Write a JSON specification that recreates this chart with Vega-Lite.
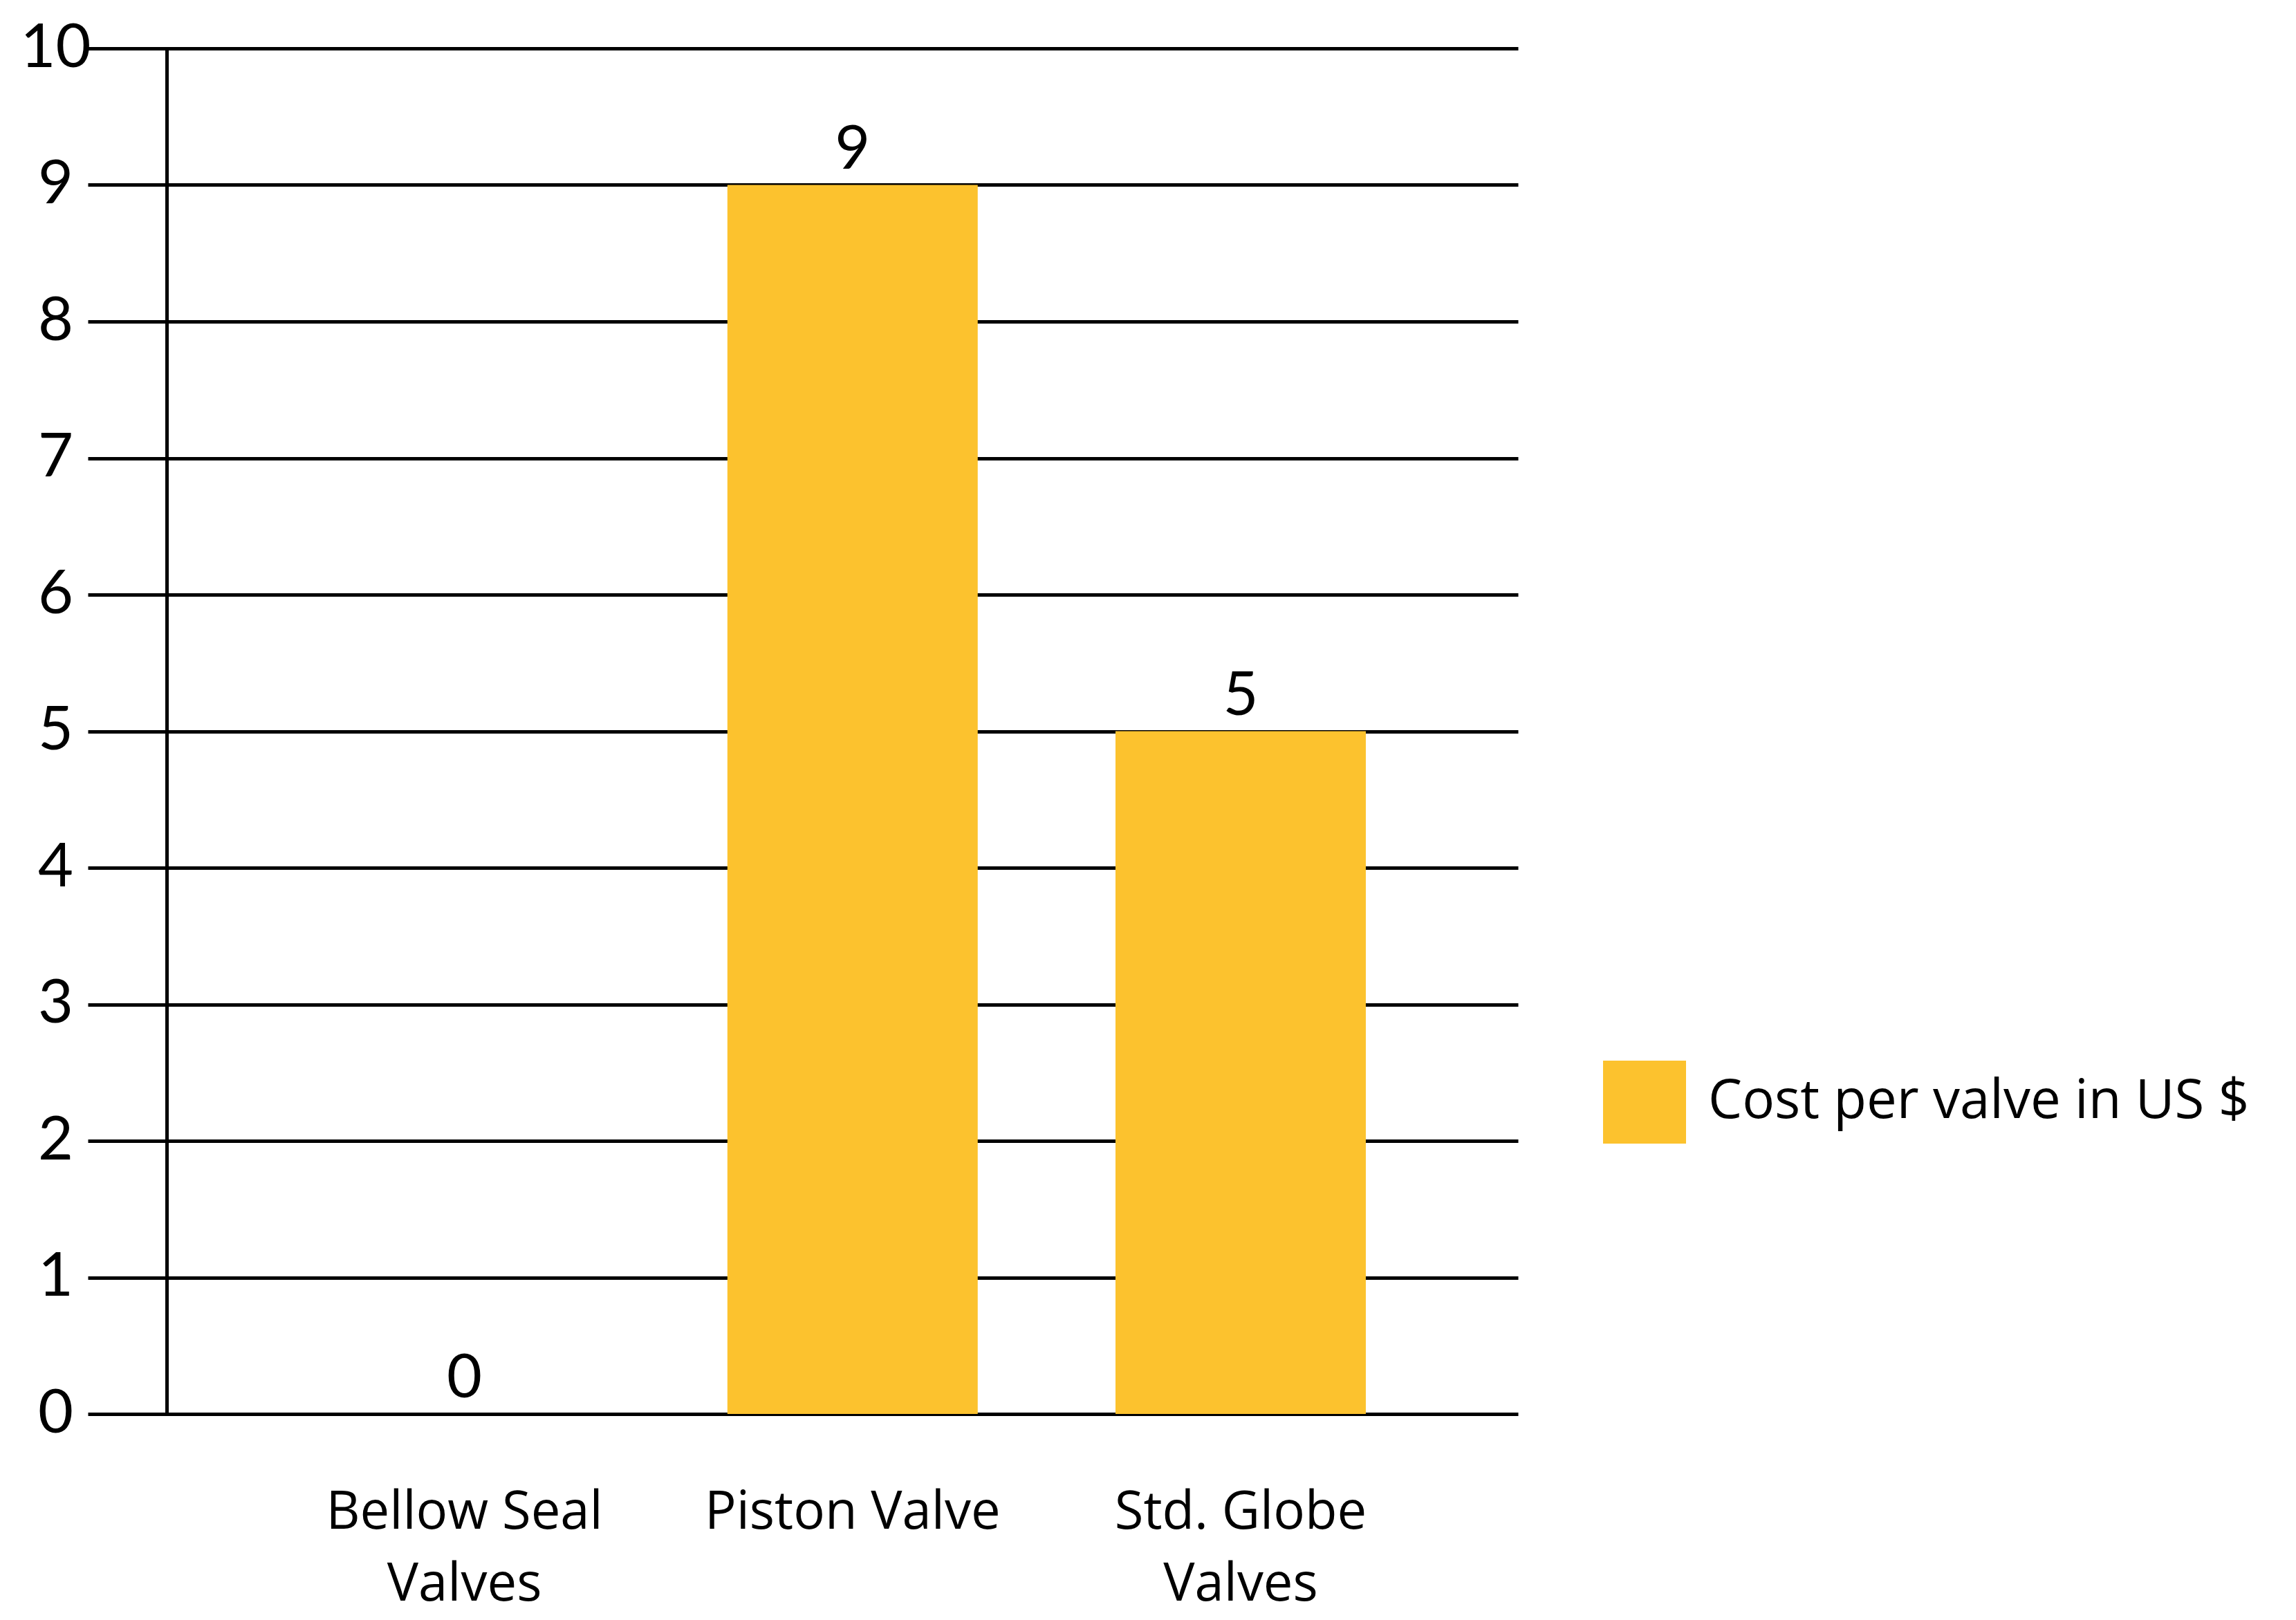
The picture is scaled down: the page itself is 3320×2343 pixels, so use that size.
{
  "$schema": "https://vega.github.io/schema/vega-lite/v6.json",
  "autosize": {"type": "none"},
  "padding": {"left": 127, "top": 70, "right": 1125, "bottom": 298},
  "width": 2068,
  "height": 1975,
  "background": "white",
  "config": {
    "view": {"stroke": null},
    "axis": {"labelColor": "black", "titleColor": "black"}
  },
  "data": {
    "values": [
      {"valve": "Bellow Seal\nValves", "cost": 0},
      {"valve": "Piston Valve", "cost": 9},
      {"valve": "Std. Globe\nValves", "cost": 5}
    ]
  },
  "encoding": {
    "x": {
      "field": "valve",
      "type": "nominal",
      "sort": null,
      "scale": {"paddingInner": 0.355, "paddingOuter": 0.52, "align": 0.623},
      "axis": {
        "title": null,
        "domain": false,
        "ticks": false,
        "labelAngle": 0,
        "labelExpr": "split(datum.label, '\\n')",
        "labelFont": "Open Sans",
        "labelFontSize": 76,
        "labelLineHeight": 104,
        "labelPadding": 105,
        "labelLimit": 0
      }
    },
    "y": {
      "field": "cost",
      "type": "quantitative",
      "scale": {"domain": [0, 10], "nice": false},
      "axis": {
        "title": null,
        "values": [0, 1, 2, 3, 4, 5, 6, 7, 8, 9, 10],
        "offset": -114,
        "domain": true,
        "domainColor": "black",
        "domainWidth": 5,
        "ticks": false,
        "grid": true,
        "gridColor": "black",
        "gridWidth": 5,
        "gridOpacity": 1,
        "labelFont": "Lato",
        "labelFontSize": 88,
        "labelAlign": "center",
        "labelBaseline": "middle",
        "labelPadding": 161,
        "labelOverlap": false
      }
    }
  },
  "layer": [
    {
      "mark": {"type": "bar", "color": "#FCC22E"},
      "encoding": {
        "color": {
          "datum": "Cost per valve in US $",
          "scale": {"range": ["#FCC22E"]},
          "legend": {
            "title": null,
            "orient": "none",
            "legendX": 2191,
            "legendY": 1464,
            "symbolType": "square",
            "symbolSize": 14400,
            "symbolStrokeWidth": 0,
            "symbolOpacity": 1,
            "labelFont": "Open Sans",
            "labelFontSize": 78,
            "labelColor": "black",
            "labelOffset": 32,
            "labelLimit": 0
          }
        }
      }
    },
    {
      "mark": {
        "type": "text",
        "baseline": "bottom",
        "dy": -6,
        "font": "Lato",
        "fontSize": 88,
        "color": "black"
      },
      "encoding": {"text": {"field": "cost", "type": "quantitative"}}
    }
  ]
}
